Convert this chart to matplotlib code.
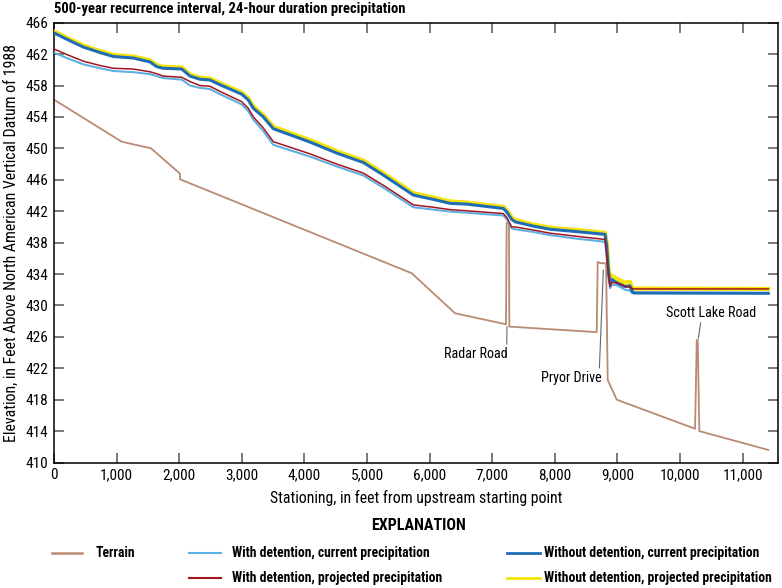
import matplotlib
matplotlib.use("Agg")
import matplotlib.pyplot as plt
from matplotlib.lines import Line2D
from matplotlib import font_manager

names = {f.name for f in font_manager.fontManager.ttflist}
prefs = ['Roboto Condensed', 'PT Sans Narrow', 'Open Sans Condensed', 'Asap Condensed',
         'Barlow Semi Condensed', 'Archivo Narrow', 'Liberation Sans']
FONT = [n for n in prefs if n in names][:1] + ['DejaVu Sans']
plt.rcParams['font.family'] = FONT

# Terrain profile
terrain_x = [0, 1081, 1550, 2010, 2016, 5714, 6406, 7220, 7231, 7268, 7273, 8669, 8685,
             8722, 8818, 8845, 8989, 10240, 10267, 10283, 10308, 11410]
terrain_y = [456.2, 450.85, 450.0, 446.8, 446.05, 434.1, 429.0, 427.6, 440.5, 440.5, 427.3,
             426.6, 435.55, 435.4, 435.35, 420.5, 418.0, 414.3, 425.6, 425.6, 414.0, 411.6]

# Water-surface profiles (same stationing for all four)
ws_x = [0, 203, 468, 735, 947, 1267, 1534, 1641, 1746, 2040, 2173, 2332, 2492, 2652, 2998,
        3104, 3184, 3343, 3503, 4089, 4516, 4941, 5260, 5740, 6059, 6326, 6593, 7178, 7232,
        7312, 7364, 7657, 7923, 8350, 8802, 8829, 8855, 8882, 8909, 8989, 9121, 9200, 9228,
        9260, 11410]
wod_current = [464.7, 463.9, 462.9, 462.2, 461.7, 461.5, 461.0, 460.4, 460.2, 460.1, 459.2,
               458.8, 458.7, 458.1, 456.9, 456.15, 455.1, 454.0, 452.5, 450.8, 449.4, 448.2,
               446.6, 444.05, 443.5, 443.0, 442.9, 442.35, 441.9, 440.95, 440.65, 440.1, 439.7,
               439.4, 439.05, 437.5, 434.5, 432.9, 433.3, 432.9, 432.4, 432.5, 431.9, 431.6, 431.55]
wod_projected = [464.9, 464.1, 463.1, 462.4, 461.9, 461.7, 461.2, 460.6, 460.4, 460.3, 459.4,
                 459.0, 458.9, 458.3, 457.1, 456.4, 455.35, 454.25, 452.75, 451.05, 449.65,
                 448.45, 446.85, 444.3, 443.75, 443.25, 443.1, 442.55, 442.1, 441.2, 440.9,
                 440.3, 439.9, 439.6, 439.25, 438.0, 435.0, 433.4, 433.8, 433.4, 432.9, 433.0,
                 432.4, 432.15, 432.1]
wd_projected = [462.65, 461.95, 461.1, 460.55, 460.2, 460.1, 459.75, 459.5, 459.2, 459.05,
                458.5, 458.0, 457.9, 457.25, 455.95, 455.1, 454.0, 452.6, 450.85, 449.3, 448.0,
                446.85, 445.3, 442.8, 442.5, 442.2, 442.05, 441.7, 441.2, 440.0, 440.0, 439.6,
                439.2, 438.8, 438.4, 436.5, 434.0, 432.4, 432.9, 432.9, 432.45, 432.3, 432.2,
                432.1, 432.1]
wd_current = [462.2, 461.5, 460.7, 460.2, 459.85, 459.7, 459.45, 459.2, 458.95, 458.75, 458.0,
              457.7, 457.55, 456.9, 455.6, 454.75, 453.65, 452.2, 450.45, 448.95, 447.7, 446.55,
              445.0, 442.5, 442.2, 441.95, 441.8, 441.45, 441.0, 439.8, 439.7, 439.35, 438.95,
              438.5, 438.1, 436.2, 433.7, 432.2, 432.6, 432.6, 432.0, 431.9, 431.6, 431.55, 431.55]

C_TERRAIN = '#b98a74'
C_WD_CUR = '#5fb0e2'
C_WD_PROJ = '#a3161f'
C_WOD_CUR = '#1f6db5'
C_WOD_PROJ = '#f5e30a'

W, H = 782, 588
fig = plt.figure(figsize=(W / 100, H / 100), dpi=100)
ax = fig.add_axes([54 / W, 1 - 462.5 / H, (778 - 54) / W, (462.5 - 22.7) / H])

ax.plot(terrain_x, terrain_y, color=C_TERRAIN, lw=1.3, zorder=2)
ax.plot(ws_x, wod_projected, color=C_WOD_PROJ, lw=3.0, zorder=3)
ax.plot(ws_x, wd_current, color=C_WD_CUR, lw=1.5, zorder=4)
ax.plot(ws_x, wod_current, color=C_WOD_CUR, lw=2.2, zorder=5)
ax.plot(ws_x, wd_projected, color=C_WD_PROJ, lw=1.1, zorder=6)

ax.set_xlim(0, 11565)
ax.set_ylim(410, 466)
ax.set_xticks(range(0, 11001, 1000))
ax.set_xticklabels([f'{v:,}' for v in range(0, 11001, 1000)])
ax.set_yticks(range(410, 467, 4))
ax.tick_params(direction='in', length=7, width=1.1, color='#555555', labelsize=11,
               top=True, right=True, pad=4)
for s in ax.spines.values():
    s.set_linewidth(1.1)

ax.set_xlabel('Stationing, in feet from upstream starting point', fontsize=11.4, labelpad=6)
ax.set_ylabel('Elevation, in Feet Above North American Vertical Datum of 1988', fontsize=11.4,
              labelpad=5)
fig.text(54 / W, 1 - 9 / H, '500-year recurrence interval, 24-hour duration precipitation',
         fontsize=10.5, fontweight='bold', ha='left', va='center')

# Road labels
lead = dict(arrowstyle='-', color='#666666', lw=0.8, shrinkA=0, shrinkB=0)
ax.annotate('Radar Road', xy=(7236, 427.3), xytext=(7252, 423.8), ha='right', va='center',
            fontsize=10.2, arrowprops=dict(lead, relpos=(0.98, 1.0)))
ax.annotate('Pryor Drive', xy=(8775, 434.5), xytext=(8749, 420.8), ha='right', va='center',
            fontsize=10.2, arrowprops=dict(lead, relpos=(0.96, 1.0)))
ax.annotate('Scott Lake Road', xy=(10292, 425.8), xytext=(10495, 429.05), ha='center',
            va='center', fontsize=10.2, arrowprops=dict(lead, relpos=(0.39, 0.0)))

# Explanation
fig.text(418 / W, 1 - 526 / H, 'EXPLANATION', fontsize=11.5, fontweight='bold', ha='center',
         va='center')
entries = [
    ('Terrain', C_TERRAIN, 1.8, 52, 82, 96, 553),
    ('With detention, current precipitation', C_WD_CUR, 1.5, 189, 221, 232, 553),
    ('With detention, projected precipitation', C_WD_PROJ, 1.5, 189, 221, 232, 578),
    ('Without detention, current precipitation', C_WOD_CUR, 2.0, 507, 540, 544, 553),
    ('Without detention, projected precipitation', C_WOD_PROJ, 2.0, 507, 540, 544, 578),
]
for label, col, lw, x0, x1, tx, py in entries:
    y = 1 - py / H
    fig.add_artist(Line2D([x0 / W, x1 / W], [y, y], color=col, lw=lw, transform=fig.transFigure))
    fig.text(tx / W, y, label, fontsize=9.8, fontweight='bold', ha='left', va='center')

fig.savefig('out.png', dpi=100)
